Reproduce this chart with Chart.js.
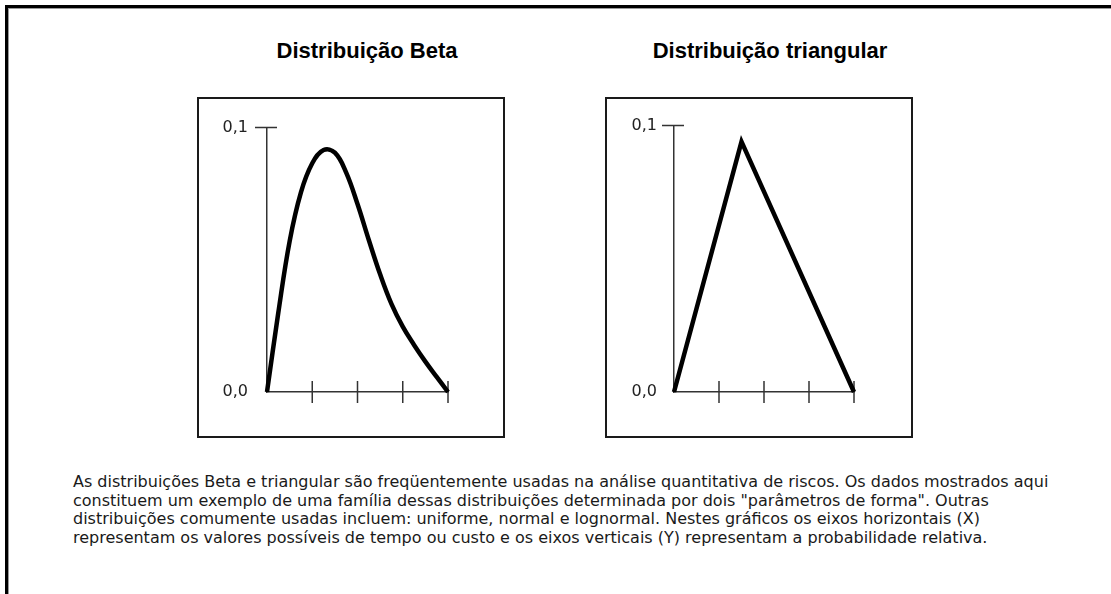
<!doctype html>
<html lang="pt">

<head>
	<meta charset="utf-8">
	<title>Distribuições Beta e triangular</title>
	<style>
		* {
			margin: 0;
			padding: 0;
		}

		body {
			width: 1111px;
			height: 594px;
			background: #fff;
			position: relative;
			overflow: hidden;
			font-family: "DejaVu Sans", sans-serif;
			color: #1a1a1a;
		}

		.frame {
			position: absolute;
			left: 5px;
			top: 5px;
			right: 0;
			bottom: 0;
			border-top: 3px solid #000;
			border-left: 3px solid #000;
			box-shadow: inset 1px 1px 0 #999;
		}

		.title {
			position: absolute;
			top: 40px;
			width: 300px;
			text-align: center;
			font-family: "Liberation Sans", Arial, sans-serif;
			font-size: 22px;
			line-height: 22px;
			font-weight: bold;
			color: #000;
		}

		.chartBox {
			position: absolute;
			top: 97px;
			width: 308px;
			height: 341px;
			border: 2px solid #1a1a1a;
			box-sizing: border-box;
		}

		.note {
			position: absolute;
			left: 73px;
			top: 473px;
			font-size: 16px;
			line-height: 18.5px;
			white-space: nowrap;
		}
	</style>
</head>

<body>
	<div class="frame"></div>

	<div class="title" style="left: 217px">Distribuição Beta</div>
	<div class="title" style="left: 620px">Distribuição triangular</div>

	<div class="chartBox" style="left: 197px">
		<canvas id="betaChart"></canvas>
	</div>
	<div class="chartBox" style="left: 605px">
		<canvas id="triChart"></canvas>
	</div>

	<p class="note">
		As distribuições Beta e triangular são freqüentemente usadas na análise quantitativa de riscos. Os dados mostrados aqui<br>
		constituem um exemplo de uma família dessas distribuições determinada por dois "parâmetros de forma". Outras<br>
		distribuições comumente usadas incluem: uniforme, normal e lognormal. Nestes gráficos os eixos horizontais (X)<br>
		representam os valores possíveis de tempo ou custo e os eixos verticais (Y) representam a probabilidade relativa.
	</p>

	<script src="https://cdn.jsdelivr.net/npm/chart.js"></script>

	<script>
		// data (x: 4 tick intervals, y: probability)
		const betaX = [0, 0.25, 0.5, 0.75, 1, 1.25, 1.5, 1.75, 2, 2.25, 2.5, 2.75, 3, 3.25, 3.5, 3.75, 4]
		const betaY = [0, 0.030, 0.057, 0.0755, 0.0865, 0.0915, 0.0905, 0.083, 0.0711, 0.0575, 0.0445, 0.0333, 0.0247, 0.0178, 0.0115, 0.0057, 0]

		const triX = [0, 1.5, 4]
		const triY = [0, 0.094, 0]

		const xTicks = [0, 1, 2, 3, 4]
		const yTicks = [0, 0.1]

		const toPoints = (xs, ys) => xs.map((x, i) => ({ x: x, y: ys[i] }))
		const fmt = v => v.toFixed(1).replace('.', ',')

		// ticks that cross the axis line, like the printed figure
		const crossTicks = {
			id: 'crossTicks',
			beforeDatasetsDraw(chart) {
				const { ctx, scales: { x, y } } = chart
				ctx.save()
				ctx.strokeStyle = '#333'
				ctx.lineWidth = 1.5
				ctx.beginPath()
				x.ticks.forEach(t => {
					if (t.value <= x.min) return
					const px = x.getPixelForValue(t.value)
					ctx.moveTo(px, y.bottom - 11)
					ctx.lineTo(px, y.bottom + 11)
				})
				y.ticks.forEach(t => {
					if (t.value <= y.min) return
					const py = y.getPixelForValue(t.value)
					ctx.moveTo(x.left - 12, py)
					ctx.lineTo(x.left + 10, py)
				})
				ctx.stroke()
				ctx.restore()
			}
		}

		function makeChart(id, points, tension, leftWidth, rightPad, labelPad) {
			// setup
			const data = {
				datasets: [{
					data: points,
					borderColor: '#000',
					borderWidth: 4.5,
					borderJoinStyle: 'miter',
					pointRadius: 0,
					tension: tension,
					clip: false,
				}]
			}

			// config
			const config = {
				type: 'line',
				data: data,
				options: {
					responsive: true,
					maintainAspectRatio: false,
					animation: false,
					events: [],
					layout: {
						padding: { top: 22, right: rightPad, left: 0, bottom: 0 }
					},
					scales: {
						x: {
							type: 'linear',
							min: xTicks[0],
							max: xTicks[xTicks.length - 1],
							afterBuildTicks: s => { s.ticks = xTicks.map(v => ({ value: v })) },
							afterFit: s => { s.height = 44 },
							grid: { display: false },
							border: { display: true, color: '#333', width: 1.5 },
							ticks: { display: false },
						},
						y: {
							min: yTicks[0],
							max: yTicks[yTicks.length - 1],
							afterBuildTicks: s => { s.ticks = yTicks.map(v => ({ value: v })) },
							afterFit: s => { s.width = leftWidth },
							grid: { display: false, drawTicks: false },
							border: { display: true, color: '#333', width: 1.5 },
							ticks: {
								padding: labelPad,
								color: '#222',
								font: { family: '"DejaVu Sans", sans-serif', size: 16 },
								callback: v => fmt(v),
							},
						}
					},
					plugins: {
						legend: { display: false },
						tooltip: { enabled: false },
					}
				},
				plugins: [crossTicks]
			}

			return new Chart(document.getElementById(id), config)
		}

		// render init block
		const betaChart = makeChart('betaChart', toPoints(betaX, betaY), 0.4, 68, 55, 19)
		const triChart = makeChart('triChart', toPoints(triX, triY), 0, 67, 57, 17)
	</script>

</body>

</html>
